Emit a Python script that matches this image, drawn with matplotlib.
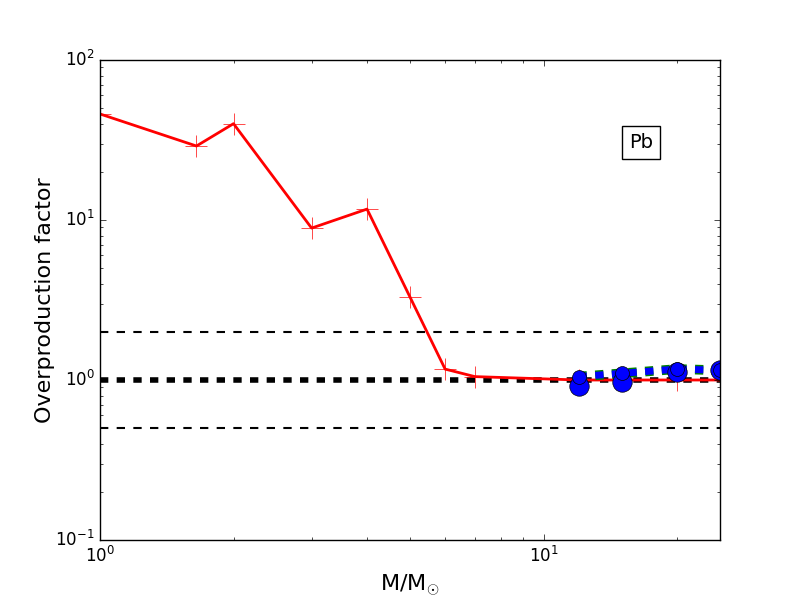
import matplotlib
matplotlib.use('Agg')
import matplotlib.pyplot as plt

plt.style.use('classic')

# red track (low/intermediate mass)
mass_low = [1.0, 1.65, 2.0, 3.0, 4.0, 5.0, 6.0, 7.0, 12.0, 15.0, 20.0, 25.0]
of_low = [46.0, 29.0, 40.0, 8.9, 11.7, 3.3, 1.17, 1.05, 1.0, 1.0, 1.0, 1.0]

# massive stars
mass_high = [12.0, 15.0, 20.0, 25.0]
of_big = [0.92, 0.97, 1.12, 1.15]
of_small = [1.05, 1.10, 1.17, 1.15]

ref_levels = [0.5, 1.0, 2.0]
ref_widths = [1.5, 4.0, 1.5]

fig = plt.figure(figsize=(8, 6), dpi=100)
ax = fig.add_axes([0.125, 0.1, 0.775, 0.8])

for lev, lw in zip(ref_levels, ref_widths):
    ax.axhline(lev, color='k', linestyle='--', linewidth=lw)

ax.plot(mass_low, of_low, color='r', linewidth=2, marker='+', markersize=16,
        markeredgecolor='r')

ax.plot(mass_high, of_small, color='g', linestyle='--', linewidth=7)
ax.plot(mass_high, of_small, color='b', linestyle='--', linewidth=5)
ax.plot(mass_high, of_big, color='b', linestyle='none', marker='o', markersize=14)
ax.plot(mass_high, of_small, color='b', linestyle='none', marker='o', markersize=10)

ax.text(16.6, 30.7, 'Pb', fontsize=14, ha='center', va='center',
        bbox=dict(facecolor='w', edgecolor='k', pad=5))

ax.set_xscale('log')
ax.set_yscale('log')
ax.set_xlim(1, 25)
ax.set_ylim(0.1, 100)
ax.set_xlabel(r'M/M$_{\odot}$', fontsize=16)
ax.set_ylabel('Overproduction factor', fontsize=16, labelpad=0)

plt.savefig('out.png', dpi=100)
